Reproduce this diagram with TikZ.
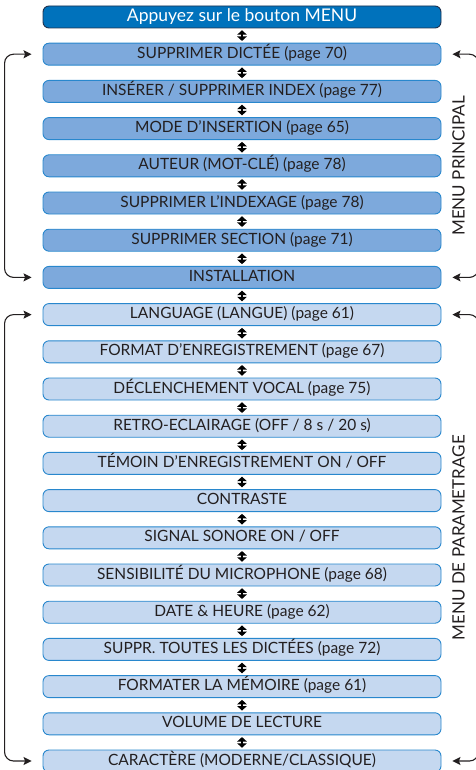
\documentclass[tikz,border=0pt]{standalone}
\usepackage{fontspec}
\setmainfont{Lato}
\usepackage{xcolor}
\usetikzlibrary{arrows.meta,positioning,calc}

\definecolor{topfill}{RGB}{0,114,188}
\definecolor{topedge}{RGB}{30,50,80}
\definecolor{mainfill}{RGB}{125,169,220}
\definecolor{setfill}{RGB}{197,216,240}
\definecolor{boxedge}{RGB}{40,135,205}
\definecolor{ink}{RGB}{35,31,32}

\begin{document}
\begin{tikzpicture}[
    x=1pt, y=1pt,
    node distance=14.3pt,
    entry/.style={draw=boxedge, line width=0.9pt, rounded corners=6pt, minimum width=398pt, minimum height=22pt, inner sep=0pt, text height=11.5pt, text depth=3.5pt, text=ink, font=\fontsize{15.5}{17}\selectfont},
    mainentry/.style={entry, fill=mainfill},
    setentry/.style={entry, fill=setfill},
    startentry/.style={entry, draw=topedge, fill=topfill, text=white, text height=12.5pt, text depth=3.5pt, font=\fontsize{17.5}{19}\selectfont},
    dblarrow/.style={{Triangle[width=9.5pt,length=4.5pt]}-{Triangle[width=9.5pt,length=4.5pt]}, line width=1.2pt, shorten <=1.8pt, shorten >=1.8pt},
    bracket/.style={{Stealth[length=8pt,width=8pt,inset=1.5pt]}-{Stealth[length=8pt,width=8pt,inset=1.5pt]}, line width=1.1pt, rounded corners=9pt, ink},
    sidelabel/.style={rotate=90, text=ink, font=\fontsize{17}{19}\selectfont}
  ]
    \useasboundingbox (0,0) rectangle (475,-770);
    \node[startentry] (menu) at (242,-17) {Appuyez sur le bouton MENU};
    % menu principal
    \node[mainentry, below=of menu] (dictee) {SUPPRIMER DICTÉE (page 70)};
    \node[mainentry, below=of dictee] (index) {INSÉRER / SUPPRIMER INDEX (page 77)};
    \node[mainentry, below=of index] (insertion) {MODE D'INSERTION (page 65)};
    \node[mainentry, below=of insertion] (auteur) {AUTEUR (MOT-CLÉ) (page 78)};
    \node[mainentry, below=of auteur] (indexage) {SUPPRIMER L'INDEXAGE (page 78)};
    \node[mainentry, below=of indexage] (section) {SUPPRIMER SECTION (page 71)};
    \node[mainentry, below=of section] (install) {INSTALLATION};
    % menu de parametrage
    \node[setentry, below=of install] (langue) {LANGUAGE (LANGUE) (page 61)};
    \node[setentry, below=of langue] (format) {FORMAT D'ENREGISTREMENT (page 67)};
    \node[setentry, below=of format] (declench) {DÉCLENCHEMENT VOCAL (page 75)};
    \node[setentry, below=of declench] (retro) {RETRO-ECLAIRAGE (OFF / 8 s / 20 s)};
    \node[setentry, below=of retro] (temoin) {TÉMOIN D'ENREGISTREMENT ON / OFF};
    \node[setentry, below=of temoin] (contraste) {CONTRASTE};
    \node[setentry, below=of contraste] (signal) {SIGNAL SONORE ON / OFF};
    \node[setentry, below=of signal] (micro) {SENSIBILITÉ DU MICROPHONE (page 68)};
    \node[setentry, below=of micro] (dateheure) {DATE \& HEURE (page 62)};
    \node[setentry, below=of dateheure] (supprall) {SUPPR. TOUTES LES DICTÉES (page 72)};
    \node[setentry, below=of supprall] (formater) {FORMATER LA MÉMOIRE (page 61)};
    \node[setentry, below=of formater] (volume) {VOLUME DE LECTURE};
    \node[setentry, below=of volume] (caractere) {CARACTÈRE (MODERNE/CLASSIQUE)};
    \draw[dblarrow] (menu) -- (dictee);
    \draw[dblarrow] (dictee) -- (index);
    \draw[dblarrow] (index) -- (insertion);
    \draw[dblarrow] (insertion) -- (auteur);
    \draw[dblarrow] (auteur) -- (indexage);
    \draw[dblarrow] (indexage) -- (section);
    \draw[dblarrow] (section) -- (install);
    \draw[dblarrow] (install) -- (langue);
    \draw[dblarrow] (langue) -- (format);
    \draw[dblarrow] (format) -- (declench);
    \draw[dblarrow] (declench) -- (retro);
    \draw[dblarrow] (retro) -- (temoin);
    \draw[dblarrow] (temoin) -- (contraste);
    \draw[dblarrow] (contraste) -- (signal);
    \draw[dblarrow] (signal) -- (micro);
    \draw[dblarrow] (micro) -- (dateheure);
    \draw[dblarrow] (dateheure) -- (supprall);
    \draw[dblarrow] (supprall) -- (formater);
    \draw[dblarrow] (formater) -- (volume);
    \draw[dblarrow] (volume) -- (caractere);
    % side loops
    \draw[bracket] ([xshift=-11pt]dictee.west) -| ([xshift=-38pt]install.west) -- ([xshift=-11pt]install.west);
    \draw[bracket] ([xshift=11pt]dictee.east) -| ([xshift=37pt]install.east) -- ([xshift=11pt]install.east);
    \draw[bracket] ([xshift=-11pt]langue.west) -| ([xshift=-38pt]caractere.west) -- ([xshift=-11pt]caractere.west);
    \draw[bracket] ([xshift=11pt]langue.east) -| ([xshift=37pt]caractere.east) -- ([xshift=11pt]caractere.east);
    \node[sidelabel] (mainlabel) at ($(dictee.east)!0.5!(install.east)+(17,0)$) {MENU PRINCIPAL};
    \node[sidelabel] (setlabel) at ($(langue.east)!0.5!(caractere.east)+(17,0)$) {MENU DE PARAMETRAGE};
  \end{tikzpicture}
\end{document}
